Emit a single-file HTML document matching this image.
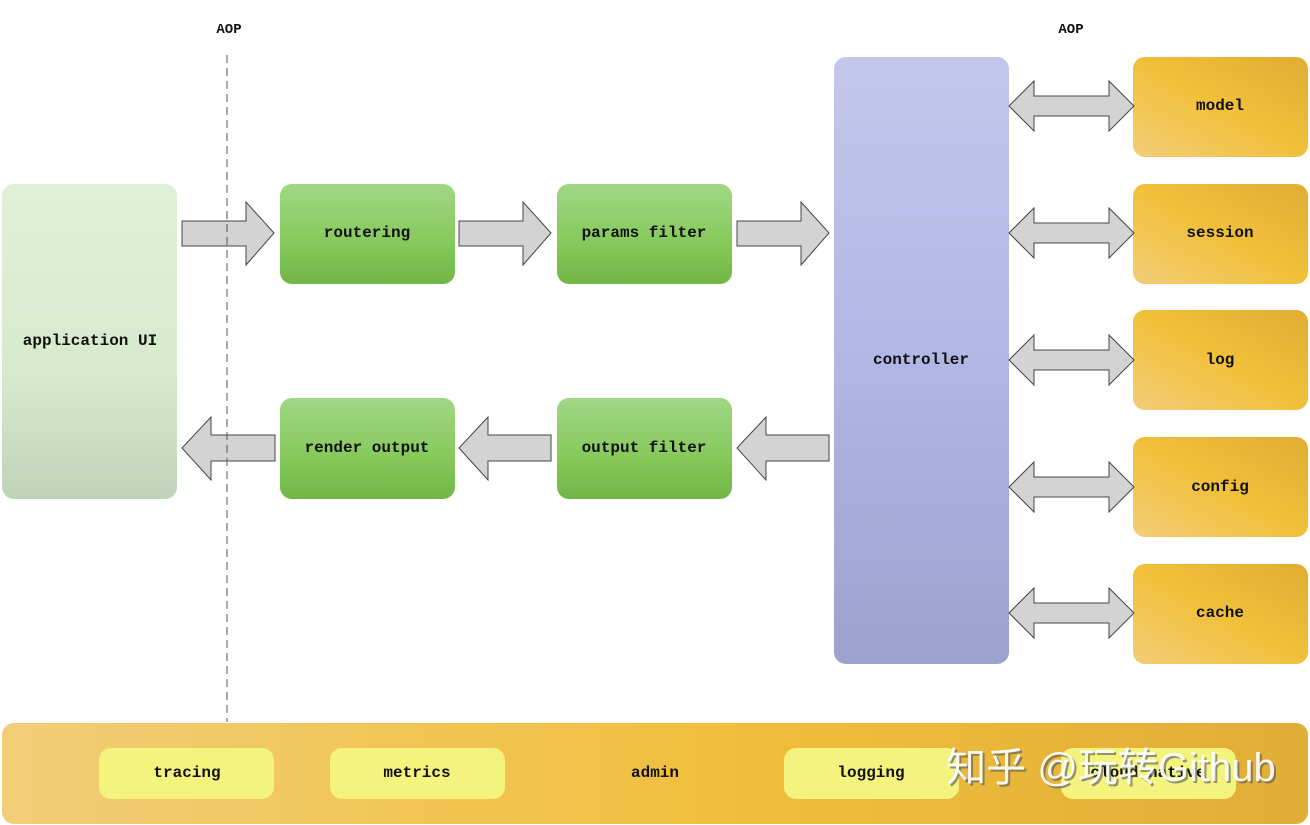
<!DOCTYPE html>
<html><head><meta charset="utf-8"><style>
html,body{margin:0;padding:0;background:#fff;}
svg{display:block}
text{font-family:"Liberation Mono","DejaVu Sans Mono",monospace;font-weight:bold;font-size:16px;fill:#111;text-anchor:middle;dominant-baseline:central}
</style></head><body>
<svg width="1310" height="825" viewBox="0 0 1310 825" xmlns="http://www.w3.org/2000/svg">
<defs>
<linearGradient id="gapp" x1="0" y1="0" x2="0" y2="1"><stop offset="0" stop-color="#dff0d9"/><stop offset="0.6" stop-color="#d6eacd"/><stop offset="1" stop-color="#bfd3b8"/></linearGradient>
<linearGradient id="ggreen" x1="0" y1="0" x2="0" y2="1"><stop offset="0" stop-color="#a0d786"/><stop offset="0.6" stop-color="#86c95a"/><stop offset="1" stop-color="#72b647"/></linearGradient>
<linearGradient id="gctl" x1="0" y1="0" x2="0" y2="1"><stop offset="0" stop-color="#c3c7ea"/><stop offset="0.5" stop-color="#b0b7e5"/><stop offset="1" stop-color="#9ca2ce"/></linearGradient>
<linearGradient id="gy" x1="0" y1="1" x2="1" y2="0"><stop offset="0" stop-color="#f2cd78"/><stop offset="0.5" stop-color="#f1c03a"/><stop offset="1" stop-color="#e0ad32"/></linearGradient>
<linearGradient id="gbar" x1="0" y1="0" x2="1" y2="0"><stop offset="0" stop-color="#f2cd78"/><stop offset="0.55" stop-color="#f0bf3c"/><stop offset="1" stop-color="#e0ae36"/></linearGradient>
</defs>

<text x="229" y="30" style="font-size:14px">AOP</text>
<text x="1071" y="30" style="font-size:14px">AOP</text>

<rect x="2" y="184" width="175" height="315" rx="12" fill="url(#gapp)"/>
<text x="90" y="341">application UI</text>

<rect x="280" y="184" width="175" height="100" rx="12" fill="url(#ggreen)"/>
<text x="367" y="233">routering</text>
<rect x="557" y="184" width="175" height="100" rx="12" fill="url(#ggreen)"/>
<text x="644" y="233">params filter</text>
<rect x="280" y="398" width="175" height="101" rx="12" fill="url(#ggreen)"/>
<text x="367" y="448">render output</text>
<rect x="557" y="398" width="175" height="101" rx="12" fill="url(#ggreen)"/>
<text x="644" y="448">output filter</text>

<rect x="834" y="57" width="175" height="607" rx="12" fill="url(#gctl)"/>
<text x="921" y="360">controller</text>

<g>
<rect x="1133" y="57" width="175" height="100" rx="12" fill="url(#gy)"/><text x="1220" y="106">model</text>
<rect x="1133" y="184" width="175" height="100" rx="12" fill="url(#gy)"/><text x="1220" y="233">session</text>
<rect x="1133" y="310" width="175" height="100" rx="12" fill="url(#gy)"/><text x="1220" y="360">log</text>
<rect x="1133" y="437" width="175" height="100" rx="12" fill="url(#gy)"/><text x="1220" y="487">config</text>
<rect x="1133" y="564" width="175" height="100" rx="12" fill="url(#gy)"/><text x="1220" y="613">cache</text>
</g>

<g fill="#d3d3d3" stroke="#444" stroke-width="1">
<polygon points="182,221 246,221 246,202 274,233 246,265 246,246 182,246"/>
<polygon points="459,221 523,221 523,202 551,233 523,265 523,246 459,246"/>
<polygon points="737,221 801,221 801,202 829,233 801,265 801,246 737,246"/>
<polygon points="275,435 211,435 211,417 182,448 211,480 211,461 275,461"/>
<polygon points="551,435 488,435 488,417 459,448 488,480 488,461 551,461"/>
<polygon points="829,435 766,435 766,417 737,448 766,480 766,461 829,461"/>
</g>
<g fill="#d3d3d3" stroke="#444" stroke-width="1">
<polygon points="1009,106 1034,81 1034,96 1109,96 1109,81 1134,106 1109,131 1109,116 1034,116 1034,131"/>
<polygon points="1009,233 1034,208 1034,223 1109,223 1109,208 1134,233 1109,258 1109,243 1034,243 1034,258"/>
<polygon points="1009,360 1034,335 1034,350 1109,350 1109,335 1134,360 1109,385 1109,370 1034,370 1034,385"/>
<polygon points="1009,487 1034,462 1034,477 1109,477 1109,462 1134,487 1109,512 1109,497 1034,497 1034,512"/>
<polygon points="1009,613 1034,588 1034,603 1109,603 1109,588 1134,613 1109,638 1109,623 1034,623 1034,638"/>
</g>

<line x1="227" y1="55" x2="227" y2="722" stroke="#555" stroke-width="1" stroke-dasharray="8,5"/>

<rect x="2" y="723" width="1306" height="101" rx="12" fill="url(#gbar)"/>
<g fill="#f3f37e">
<rect x="99" y="748" width="175" height="51" rx="12"/>
<rect x="330" y="748" width="175" height="51" rx="12"/>
<rect x="784" y="748" width="175" height="51" rx="12"/>
<rect x="1061" y="748" width="175" height="51" rx="12"/>
</g>
<text x="187" y="773">tracing</text>
<text x="417" y="773">metrics</text>
<text x="655" y="773">admin</text>
<text x="871" y="773">logging</text>
<text x="1148" y="773">cloud native</text>

<text x="1113" y="770" style="font-family:'Liberation Sans','Noto Sans CJK SC',sans-serif;font-weight:normal;font-size:40px;fill:#555;opacity:0.6">知乎 @玩转Github</text>
<text x="1111" y="768" style="font-family:'Liberation Sans','Noto Sans CJK SC',sans-serif;font-weight:normal;font-size:40px;fill:#fff;opacity:0.92">知乎 @玩转Github</text>
</svg>
</body></html>
